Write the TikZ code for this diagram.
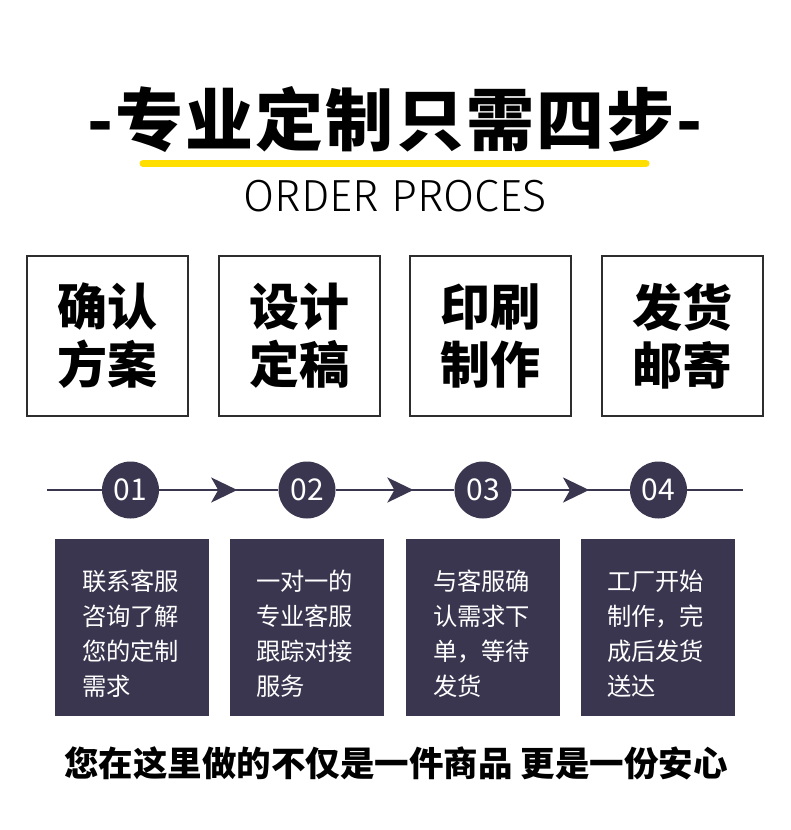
\documentclass[tikz,border=0pt]{standalone}
\usepackage{fontspec}
\setmainfont{Noto Sans CJK SC}
\newfontfamily\lightfont{Fira Sans Light}
\newfontfamily\titlefont[LetterSpace=3]{Noto Sans CJK SC}
\usetikzlibrary{arrows.meta,decorations.markings}
\definecolor{navy}{RGB}{58,54,80}
\definecolor{titleyellow}{RGB}{255,222,0}
\definecolor{boxline}{RGB}{45,45,45}
\tikzset{
  topbox/.style={draw=boxline, line width=2pt, fill=white, minimum width=161pt, minimum height=160pt,
    align=center, inner sep=0pt, font=\fontsize{50}{58}\selectfont\bfseries},
  stepnum/.style={circle, fill=navy, minimum size=57pt, inner sep=0pt, text=white,
    font=\fontsize{30}{30}\selectfont},
  darkbox/.style={fill=navy, minimum width=154pt, minimum height=177pt, inner sep=0pt},
  desc/.style={text=white, align=left, inner sep=0pt, font=\fontsize{24.3}{35}\selectfont},
  tline/.style={draw=navy, line width=2.6pt},
  arrowline/.style={tline, postaction={decorate}, decoration={markings,
    mark=at position 0.655 with {\arrow{Stealth[length=26pt,width=25pt,inset=7pt]}}}}
}
\begin{document}
\begin{tikzpicture}[x=1pt,y=-1pt]
\useasboundingbox[fill=white] (0,0) rectangle (790,830);
% title
\draw[draw=titleyellow, line width=7pt, line cap=round] (143,163.5) -- (646,163.5);
\node[font=\fontsize{68}{68}\titlefont\bfseries] (title) at (395,120) {-专业定制只需四步-};
\node[font=\fontsize{45}{45}\selectfont\lightfont] (sub) at (395,196) {ORDER PROCES};
% top boxes
\node[topbox] (s1) at (107.5,336) {确认\\方案};
\node[topbox] (s2) at (299.5,336) {设计\\定稿};
\node[topbox] (s3) at (490.5,336) {印刷\\制作};
\node[topbox] (s4) at (682.5,336) {发货\\邮寄};
% timeline
\coordinate (L) at (47,490);
\coordinate (R) at (743,490);
\node[stepnum] (c1) at (130.5,490) {01};
\node[stepnum] (c2) at (307,490) {02};
\node[stepnum] (c3) at (483,490) {03};
\node[stepnum] (c4) at (658.5,490) {04};
\draw[tline] (L) -- (c1.west);
\draw[tline] (c4.east) -- (R);
\path[arrowline] (c1.east) -- (c2.west);
\path[arrowline] (c2.east) -- (c3.west);
\path[arrowline] (c3.east) -- (c4.west);
% dark boxes
\node[darkbox] (b1) at (132,627.5) {};
\node[darkbox] (b2) at (307,627.5) {};
\node[darkbox] (b3) at (483,627.5) {};
\node[darkbox] (b4) at (658,627.5) {};
\node[desc, anchor=north west] (t1) at ([shift={(27,31)}]b1.north west) {联系客服\\咨询了解\\您的定制\\需求};
\node[desc, anchor=north west] (t2) at ([shift={(26,31)}]b2.north west) {一对一的\\专业客服\\跟踪对接\\服务};
\node[desc, anchor=north west] (t3) at ([shift={(27,31)}]b3.north west) {与客服确\\认需求下\\单，等待\\发货};
\node[desc, anchor=north west] (t4) at ([shift={(26,31)}]b4.north west) {工厂开始\\制作，完\\成后发货\\送达};
% bottom
\node[font=\fontsize{34.5}{34.5}\selectfont\bfseries] (foot) at (396,763) {您在这里做的不仅是一件商品 更是一份安心};
\end{tikzpicture}
\end{document}
